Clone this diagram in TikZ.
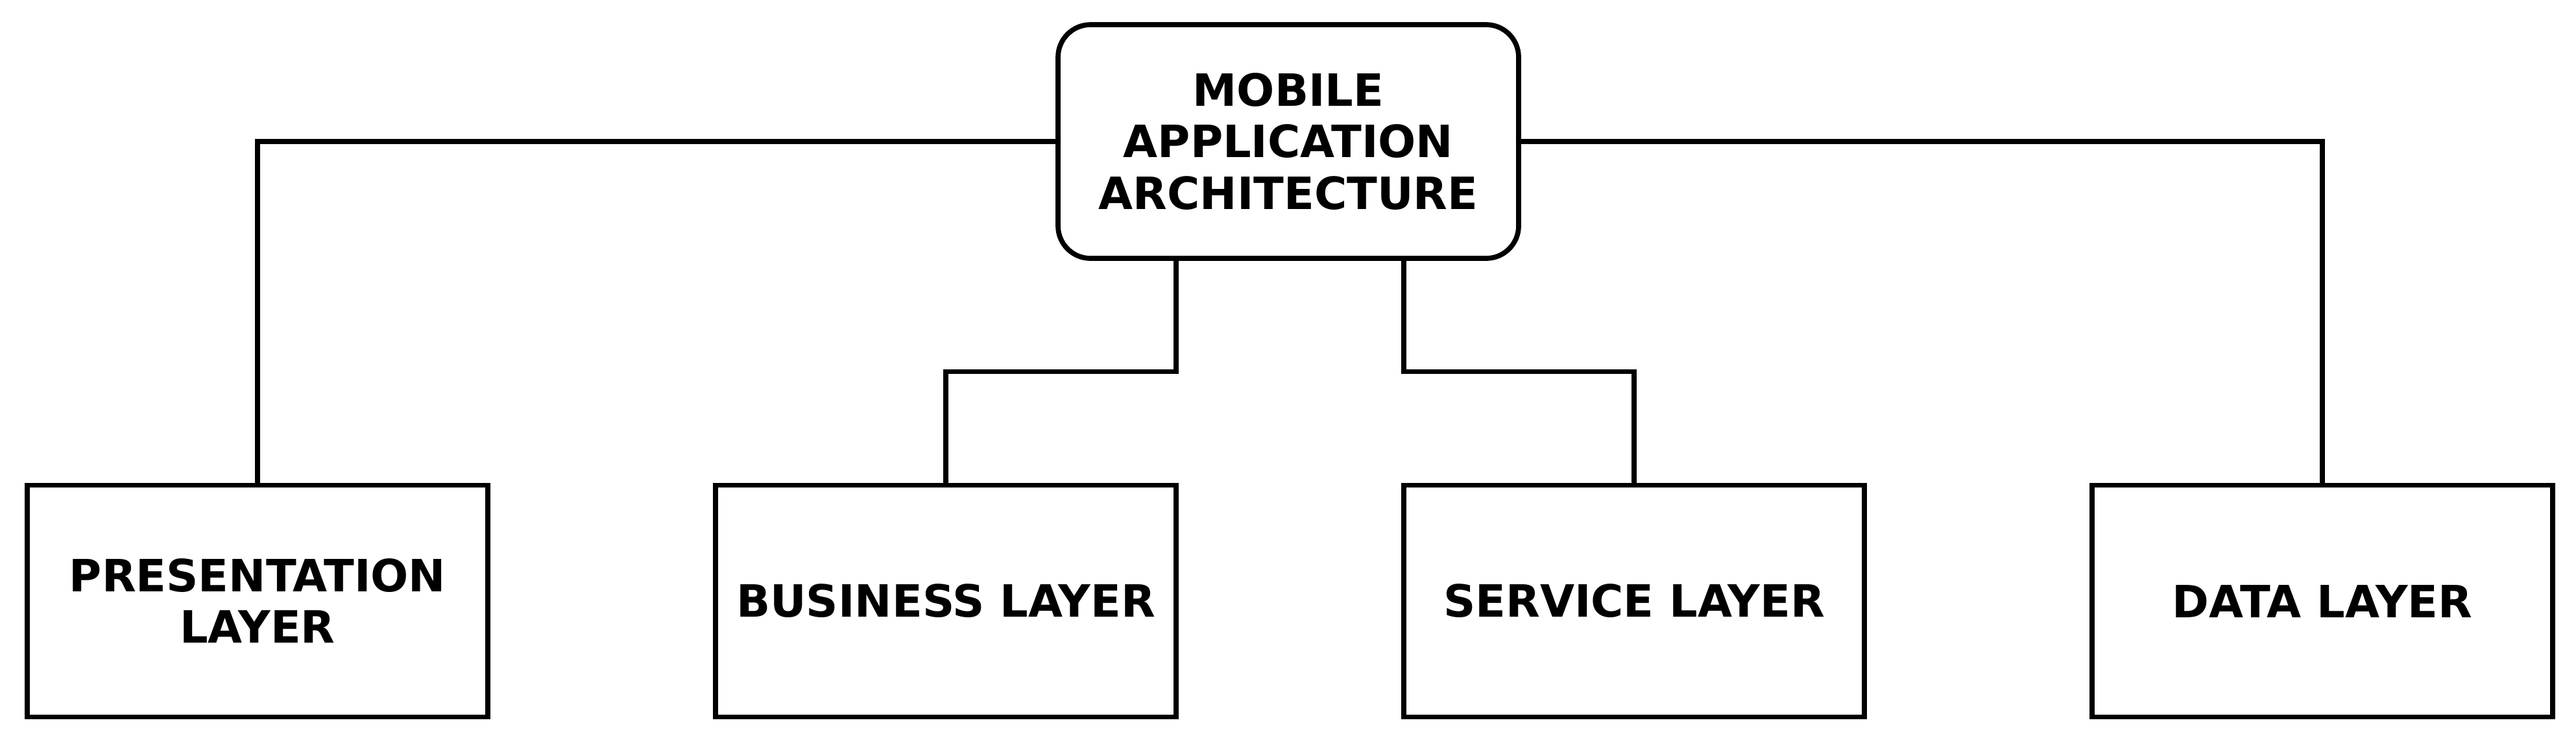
\documentclass[tikz,border=0pt]{standalone}
\usepackage{fontspec}
\setmainfont{DejaVu Sans}
\usepackage{tikz}
\usetikzlibrary{positioning,calc}

\begin{document}
\begin{tikzpicture}[every node/.style={font=\fontsize{19.5}{22.5}\selectfont\bfseries, align=center},
        rootbox/.style={draw, line width=2.2pt, outer sep=0pt, rounded corners=0.5cm, minimum width=7.1cm, minimum height=3.6cm},
        layerbox/.style={draw, line width=2.2pt, outer sep=0pt, minimum width=7.1cm, minimum height=3.57cm},
        link/.style={line width=2.1pt}]
        \useasboundingbox (0,0) rectangle (39.71,-11.39);
        \node[rootbox] (mobile) at (19.86,-2.18) {MOBILE\\APPLICATION\\ARCHITECTURE};
        \node[layerbox] (presentation) at (3.97,-9.26) {PRESENTATION\\LAYER};
        \node[layerbox] (business) at (14.58,-9.26) {BUSINESS LAYER};
        \node[layerbox] (service) at (25.19,-9.26) {SERVICE LAYER};
        \node[layerbox] (data) at (35.80,-9.26) {DATA LAYER};
        % outer branches
        \draw[link] (mobile.west) -| (presentation.north);
        \draw[link] (mobile.east) -| (data.north);
        % inner branches
        \coordinate (join) at ($(mobile.south)!0.5!(business.north)$);
        \draw[link] (mobile.south -| business.east) -- (join -| business.east)
            -- (join -| business.north) -- (business.north);
        \draw[link] (mobile.south -| service.west) -- (join -| service.west)
            -- (join -| service.north) -- (service.north);
    \end{tikzpicture}
\end{document}
